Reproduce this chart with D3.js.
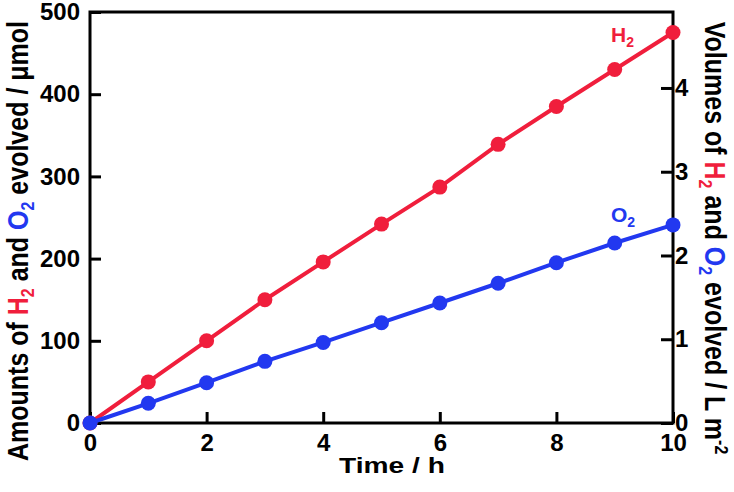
<!DOCTYPE html>
<html><head><meta charset="utf-8">
<script src="https://cdn.jsdelivr.net/npm/d3@7"></script>
<style>body{margin:0;background:#fff}svg{display:block}text{font-family:"Liberation Sans",Arial,sans-serif;font-weight:bold}</style>
</head><body>
<script>
const time = [0,1,2,3,4,5,6,7,8,9,10];
const h2 = [0,50,100,150,196,242,287,339,385,430,475];
const o2 = [0,24,49,75,98,122,146,170,195,219,241];
const xTicks = [0,2,4,6,8,10];
const yTicks = [0,100,200,300,400,500];
const y2Ticks = [0,1,2,3,4];
const red = "#f01e3c", blue = "#2238f0";

const W=734,H=492;
const svg=d3.select("body").append("svg").attr("width",W).attr("height",H);
const L=90,R=673,T=12,B=423;
const x=d3.scaleLinear().domain([0,10]).range([L,R]);
const y=d3.scaleLinear().domain([0,500]).range([B,T]);
const y2=d3.scaleLinear().domain([0,4.907]).range([B,T]);

const ax=g=>{g.select(".domain").remove();g.selectAll(".tick line").attr("stroke","#000").attr("stroke-width",3);g.selectAll(".tick text").attr("fill","#000").style("font-size","24px");};
svg.append("g").attr("transform",`translate(0,${B})`).call(d3.axisBottom(x).tickValues(xTicks).tickSize(-11).tickPadding(11).tickFormat(d3.format("d"))).call(ax);
svg.append("g").attr("transform",`translate(${L},0)`).call(d3.axisLeft(y).tickValues(yTicks).tickSize(-11).tickPadding(10).tickFormat(d3.format("d"))).call(ax);
svg.append("g").attr("transform",`translate(${R},0)`).call(d3.axisRight(y2).tickValues(y2Ticks).tickSize(-12).tickPadding(2).tickFormat(d3.format("d"))).call(ax);
svg.append("rect").attr("x",L).attr("y",T).attr("width",R-L).attr("height",B-T).attr("fill","none").attr("stroke","#000").attr("stroke-width",3);

const line=d3.line().x((d,i)=>x(time[i])).y(d=>y(d));
[[h2,red],[o2,blue]].forEach(([s,c])=>{
  svg.append("path").attr("d",line(s)).attr("fill","none").attr("stroke",c).attr("stroke-width",4);
  svg.selectAll(null).data(s).enter().append("circle").attr("cx",(d,i)=>x(time[i])).attr("cy",d=>y(d)).attr("r",7.5).attr("fill",c);
});

function lab(t,xx,yy,c){const e=svg.append("text").attr("x",xx).attr("y",yy).attr("fill",c).style("font-size","21px");e.append("tspan").text(t);e.append("tspan").attr("dy",5).style("font-size","14px").text("2");}
lab("H",611,42,red);lab("O",611,222,blue);

svg.append("text").attr("transform","translate(392,473) scale(1.28,1)").attr("text-anchor","middle").style("font-size","22px").attr("fill","#000").text("Time / h");

function title(parts, tx, ty, rot){
  const t=svg.append("text").attr("transform",`translate(${tx},${ty}) rotate(${rot}) scale(1,1.15)`).attr("text-anchor","middle").style("font-size","25px").attr("fill","#000");
  parts.forEach(p=>{const s=t.append("tspan").text(p[0]);if(p[1])s.attr("fill",p[1]);if(p[2])s.attr("dy",p[2]).style("font-size",p[3]||"16px");});
}
title([["Amounts of "],["H",red],["2",red,5],[" and ",null,-5,"25px"],["O",blue],["2",blue,5],[" evolved / μmol",null,-5,"25px"]],28,241,-90);
title([["Volumes of "],["H",red],["2",red,5],[" and ",null,-5,"25px"],["O",blue],["2",blue,5],[" evolved / L m",null,-5,"25px"],["-2",null,-9,"16px"]],705,238,90);
</script></body></html>
